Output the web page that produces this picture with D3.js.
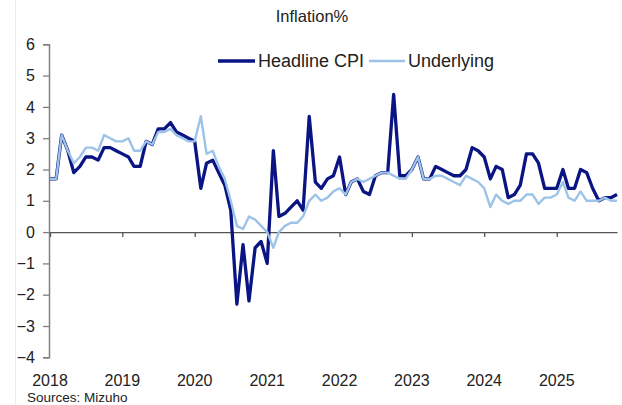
<!DOCTYPE html>
<html>
<head>
<meta charset="utf-8">
<script src="https://cdn.jsdelivr.net/npm/d3@7"></script>
<style>
  html, body { margin: 0; padding: 0; background: #fff; }
  svg { display: block; font-family: "Liberation Sans", Arial, sans-serif; }
</style>
</head>
<body>
<svg id="chart" width="622" height="405"></svg>
<script>
// Monthly year-on-year inflation, %, first month January 2018
const startMonth = new Date(2018, 0, 1);

const headlineCPI = [
  1.7, 1.7, 3.1, 2.6, 1.9, 2.1, 2.4, 2.4, 2.3, 2.7, 2.7, 2.6,
  2.5, 2.4, 2.1, 2.1, 2.9, 2.8, 3.3, 3.3, 3.5, 3.2, 3.1, 3.0,
  2.9, 1.4, 2.2, 2.3, 1.9, 1.5, 0.7, -2.3, -0.4, -2.2, -0.5, -0.3,
  -1.0, 2.6, 0.5, 0.6, 0.8, 1.0, 0.7, 3.7, 1.6, 1.4, 1.7, 1.8,
  2.4, 1.2, 1.6, 1.7, 1.3, 1.2, 1.8, 1.9, 1.9, 4.4, 1.8, 1.8,
  2.0, 2.4, 1.7, 1.7, 2.1, 2.0, 1.9, 1.8, 1.8, 2.0, 2.7, 2.6,
  2.4, 1.7, 2.1, 2.0, 1.1, 1.2, 1.5, 2.5, 2.5, 2.2, 1.4, 1.4,
  1.4, 2.0, 1.4, 1.4, 2.0, 1.9, 1.4, 1.0, 1.1, 1.1, 1.2
];

const underlying = [
  1.7, 1.7, 3.1, 2.6, 2.2, 2.4, 2.7, 2.7, 2.6, 3.1, 3.0, 2.9,
  2.9, 3.0, 2.6, 2.6, 2.9, 2.8, 3.2, 3.2, 3.3, 3.1, 3.0, 2.9,
  2.9, 3.7, 2.5, 2.6, 2.1, 1.7, 1.0, 0.2, 0.1, 0.5, 0.4, 0.2,
  0.0, -0.5, 0.0, 0.2, 0.3, 0.3, 0.5, 1.0, 1.2, 1.0, 1.1, 1.3,
  1.4, 1.2, 1.6, 1.7, 1.6, 1.7, 1.8, 1.9, 1.9, 1.8, 1.7, 1.7,
  2.0, 2.4, 1.7, 1.7, 1.8, 1.8, 1.7, 1.6, 1.5, 1.8, 1.7, 1.6,
  1.4, 0.8, 1.2, 1.0, 0.9, 1.0, 1.0, 1.2, 1.2, 0.9, 1.1, 1.1,
  1.2, 1.6, 1.1, 1.0, 1.3, 1.0, 1.0, 1.0, 1.1, 1.0, 1.0
];

const yTickValues = [-4, -3, -2, -1, 0, 1, 2, 3, 4, 5, 6];
const yearLabels = ["2018", "2019", "2020", "2021", "2022", "2023", "2024", "2025"];

const seriesNames = ["Headline CPI", "Underlying"];
const seriesColors = ["#0a1483", "#9dc3e8"];

// month dates for each observation
const months = headlineCPI.map((_, i) => d3.timeMonth.offset(startMonth, i));
const yearTicks = yearLabels.map(y => new Date(+y, 0, 1));

const svg = d3.select("#chart");

const x = d3.scaleTime()
  .domain([months[0], months[months.length - 1]])
  .range([50, 617]);

const y = d3.scaleLinear()
  .domain([-4, 6])
  .range([357.3, 44.3]);

// faint frame edge on the left
svg.append("line")
  .attr("x1", 15.5).attr("x2", 15.5)
  .attr("y1", 0).attr("y2", 405)
  .attr("stroke", "#ececec").attr("stroke-width", 1);

// title
svg.append("text")
  .attr("x", 312).attr("y", 22)
  .attr("text-anchor", "middle")
  .attr("font-size", 16.5)
  .attr("fill", "#222")
  .text("Inflation%");

// y axis
const yAxis = d3.axisLeft(y)
  .tickValues(yTickValues)
  .tickSize(6)
  .tickPadding(8)
  .tickFormat(d3.format("d"));

const gy = svg.append("g")
  .attr("transform", "translate(49,0)")
  .call(yAxis);
gy.select(".domain").attr("stroke", "#808080").attr("stroke-width", 1.5);
gy.selectAll(".tick line").attr("stroke", "#808080").attr("stroke-width", 1.3);
gy.selectAll(".tick text")
  .attr("font-size", 16)
  .attr("fill", "#222")
  .attr("font-family", "Liberation Sans, Arial, sans-serif");

// zero line with yearly ticks
const xAxis = d3.axisBottom(x)
  .tickValues(yearTicks)
  .tickSize(5)
  .tickSizeOuter(0)
  .tickFormat("");

const gx = svg.append("g")
  .attr("transform", `translate(0,${y(0)})`)
  .call(xAxis);
gx.select(".domain").attr("stroke", "#555").attr("stroke-width", 1.3);
gx.selectAll(".tick line").attr("stroke", "#555").attr("stroke-width", 1.3);

// year labels along the bottom
svg.append("g")
  .selectAll("text")
  .data(yearTicks)
  .join("text")
  .attr("x", d => x(d))
  .attr("y", 386)
  .attr("text-anchor", "middle")
  .attr("font-size", 16)
  .attr("fill", "#222")
  .text((d, i) => yearLabels[i]);

// source note
svg.append("text")
  .attr("x", 27).attr("y", 402)
  .attr("font-size", 13.5)
  .attr("fill", "#222")
  .text("Sources: Mizuho");

// lines
const line = d3.line()
  .x((d, i) => x(months[i]))
  .y(d => y(d));

svg.append("path")
  .datum(headlineCPI)
  .attr("fill", "none")
  .attr("stroke", seriesColors[0])
  .attr("stroke-width", 3.3)
  .attr("stroke-linejoin", "round")
  .attr("d", line);

svg.append("path")
  .datum(underlying)
  .attr("fill", "none")
  .attr("stroke", seriesColors[1])
  .attr("stroke-width", 2.4)
  .attr("stroke-linejoin", "round")
  .attr("d", line);

// legend
const legendItems = [
  { x1: 218, x2: 255, tx: 258 },
  { x1: 369, x2: 405, tx: 408 }
];
const lg = svg.append("g");
legendItems.forEach((it, i) => {
  lg.append("line")
    .attr("x1", it.x1).attr("x2", it.x2)
    .attr("y1", 61).attr("y2", 61)
    .attr("stroke", seriesColors[i])
    .attr("stroke-width", i === 0 ? 3.3 : 2.4);
  lg.append("text")
    .attr("x", it.tx).attr("y", 67)
    .attr("font-size", 18)
    .attr("fill", "#222")
    .text(seriesNames[i]);
});
</script>
</body>
</html>
